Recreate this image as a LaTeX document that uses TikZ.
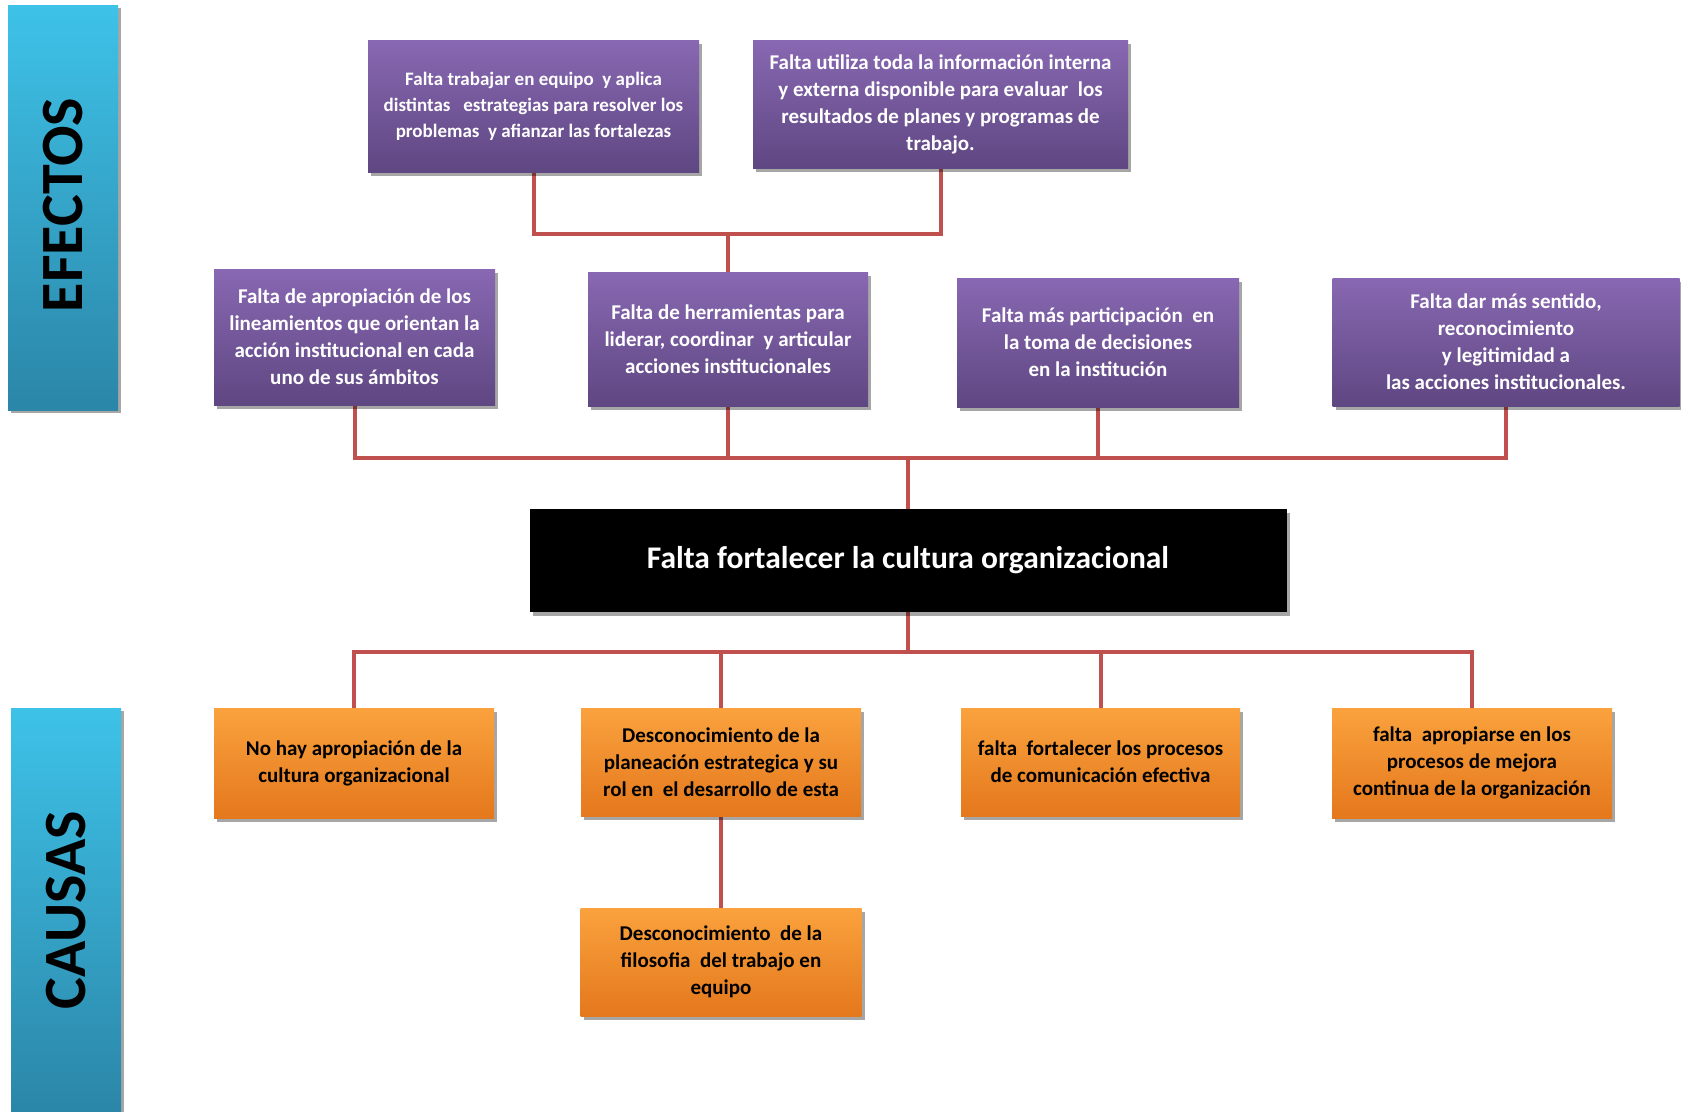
\documentclass[tikz,border=0pt]{standalone}
\usepackage{fontspec}
\setmainfont{Carlito}
\usetikzlibrary{shadows,shadings}
\definecolor{ptop}{HTML}{8868B2}
\definecolor{pbot}{HTML}{5F4782}
\definecolor{otop}{HTML}{FAA23E}
\definecolor{obot}{HTML}{E4781C}
\definecolor{btop}{HTML}{3EC2E8}
\definecolor{bbot}{HTML}{2B86A8}
\definecolor{conncol}{HTML}{C0504D}
\tikzset{
  boxbase/.style={draw=none, align=center, inner sep=2pt, font=\bfseries\fontsize{21}{27}\selectfont,
    drop shadow={shadow xshift=3pt, shadow yshift=-4pt, opacity=0.35, fill=black}},
  pbox/.style={boxbase, top color=ptop, bottom color=pbot, text=white},
  obox/.style={boxbase, top color=otop, bottom color=obot, text=black},
  kbox/.style={boxbase, fill=black, text=white, font=\bfseries\fontsize{31.5}{36}\selectfont},
  barbox/.style={draw=none, top color=btop, bottom color=bbot,
    drop shadow={shadow xshift=3pt, shadow yshift=-3pt, opacity=0.35, fill=black}},
  bartext/.style={rotate=90, font=\bfseries\fontsize{60}{60}\selectfont, text=black},
  conn/.style={draw=conncol, line width=4pt}
}
\begin{document}
\begin{tikzpicture}[x=1pt,y=-1pt]
\useasboundingbox (0,0) rectangle (1681,1111);
% side bars
\node[barbox, minimum width=110pt, minimum height=405pt] (efb) at (63,207.5) {};
\node[bartext] (eft) at (63,205) {EFECTOS};
\node[barbox, minimum width=110pt, minimum height=406pt] (cab) at (66,911) {};
\node[bartext] (cat) at (66,910) {CAUSAS};
% connector helper coordinates
\coordinate (tb) at (728,234);
\coordinate (mb) at (908,458);
\coordinate (bb) at (908,652);
% guide nodes (box positions) for connectors drawn behind the boxes
\node[minimum width=331pt, minimum height=132pt] (p1g) at (533.5,106) {};
\node[minimum width=375pt, minimum height=128pt] (p2g) at (940.5,104) {};
\node[minimum width=281pt, minimum height=136pt] (p3g) at (354.5,337) {};
\node[minimum width=280pt, minimum height=134pt] (p4g) at (728,339) {};
\node[minimum width=282pt, minimum height=129pt] (p5g) at (1098,342.5) {};
\node[minimum width=347pt, minimum height=128pt] (p6g) at (1506,342) {};
\node[minimum width=757pt, minimum height=103pt] (kg) at (908,560.5) {};
\node[minimum width=280pt, minimum height=110pt] (o1g) at (354,763) {};
\node[minimum width=280pt, minimum height=108pt] (o2g) at (721,762) {};
\node[minimum width=279pt, minimum height=108pt] (o3g) at (1100.5,762) {};
\node[minimum width=280pt, minimum height=110pt] (o4g) at (1472,763) {};
\node[minimum width=281pt, minimum height=108pt] (o5g) at (721,962) {};
\draw[conn] (p1g.center) |- (tb) -| (p2g.center);
\draw[conn] (tb) -- (p4g.center);
\draw[conn] (p3g.center) |- (mb) -| (p6g.center);
\draw[conn] (p4g.center) -- (p4g.center |- mb);
\draw[conn] (p5g.center) -- (p5g.center |- mb);
\draw[conn] (mb) -- (kg.center);
\draw[conn] (o1g.center) |- (bb) -| (o4g.center);
\draw[conn] (o2g.center) -- (o2g.center |- bb);
\draw[conn] (o3g.center) -- (o3g.center |- bb);
\draw[conn] (bb) -- (kg.center);
\draw[conn] (o2g.center) -- (o5g.center);
% effect boxes
\node[pbox, minimum width=331pt, minimum height=132pt, font=\bfseries\fontsize{19}{26}\selectfont] (p1) at (p1g) {Falta trabajar en equipo \ y aplica\\distintas \ \ estrategias para resolver los\\problemas \ y afianzar las fortalezas};
\node[pbox, minimum width=375pt, minimum height=128pt] (p2) at (p2g) {Falta utiliza toda la información interna\\y externa disponible para evaluar \ los\\resultados de planes y programas de\\trabajo.};
\node[pbox, minimum width=281pt, minimum height=136pt] (p3) at (p3g) {Falta de apropiación de los\\lineamientos que orientan la\\acción institucional en cada\\uno de sus ámbitos};
\node[pbox, minimum width=280pt, minimum height=134pt] (p4) at (p4g) {Falta de herramientas para\\liderar, coordinar \ y articular\\acciones institucionales};
\node[pbox, minimum width=282pt, minimum height=129pt] (p5) at (p5g) {Falta más participación \ en\\la toma de decisiones\\en la institución};
\node[pbox, minimum width=347pt, minimum height=128pt] (p6) at (p6g) {Falta dar más sentido,\\reconocimiento\\y legitimidad a\\las acciones institucionales.};
% core problem
\node[kbox, minimum width=757pt, minimum height=103pt] (k) at (kg) {Falta fortalecer la cultura organizacional};
% cause boxes
\node[obox, minimum width=280pt, minimum height=110pt] (o1) at (o1g) {No hay apropiación de la\\cultura organizacional};
\node[obox, minimum width=280pt, minimum height=108pt] (o2) at (o2g) {Desconocimiento de la\\planeación estrategica y su\\rol en \ el desarrollo de esta};
\node[obox, minimum width=279pt, minimum height=108pt] (o3) at (o3g) {falta \ fortalecer los procesos\\de comunicación efectiva};
\node[obox, minimum width=280pt, minimum height=110pt] (o4) at (o4g) {falta \ apropiarse en los\\procesos de mejora\\continua de la organización};
\node[obox, minimum width=281pt, minimum height=108pt] (o5) at (o5g) {Desconocimiento \ de la\\filosofia \ del trabajo en\\equipo};
\end{tikzpicture}
\end{document}
